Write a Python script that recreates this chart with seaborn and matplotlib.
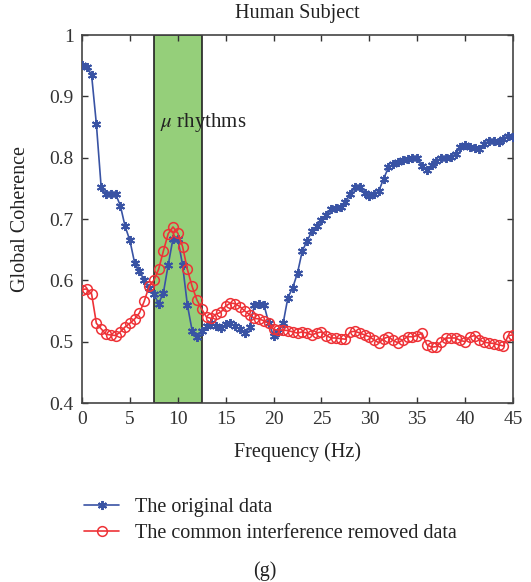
import numpy as np
import pandas as pd
import matplotlib
matplotlib.use("Agg")
import matplotlib.pyplot as plt
import seaborn as sns

freq = np.arange(0, 45.01, 0.5)

original = [
    0.951, 0.948, 0.935, 0.855, 0.752, 0.740, 0.741, 0.741, 0.722, 0.688,
    0.665, 0.628, 0.615, 0.600, 0.588, 0.578, 0.562, 0.580, 0.625, 0.668,
    0.668, 0.625, 0.560, 0.518, 0.508, 0.518, 0.525, 0.530, 0.525, 0.522,
    0.528, 0.531, 0.525, 0.520, 0.514, 0.524, 0.560, 0.562, 0.560, 0.530,
    0.510, 0.515, 0.530, 0.572, 0.588, 0.612, 0.648, 0.664, 0.680, 0.688,
    0.698, 0.706, 0.716, 0.718, 0.720, 0.728, 0.740, 0.752, 0.752, 0.742,
    0.738, 0.740, 0.746, 0.766, 0.784, 0.790, 0.793, 0.796, 0.798, 0.800,
    0.800, 0.786, 0.780, 0.788, 0.795, 0.799, 0.800, 0.801, 0.806, 0.817,
    0.820, 0.818, 0.816, 0.814, 0.823, 0.827, 0.827, 0.826, 0.831, 0.836,
    0.834,
]

removed = [
    0.585, 0.586, 0.578, 0.530, 0.521, 0.512, 0.511, 0.510, 0.516, 0.524,
    0.530, 0.537, 0.547, 0.566, 0.590, 0.600, 0.618, 0.648, 0.676, 0.687,
    0.677, 0.655, 0.618, 0.590, 0.568, 0.553, 0.540, 0.538, 0.545, 0.548,
    0.558, 0.563, 0.562, 0.557, 0.550, 0.544, 0.538, 0.537, 0.534, 0.530,
    0.520, 0.519, 0.519, 0.518, 0.516, 0.514, 0.516, 0.514, 0.511, 0.514,
    0.516, 0.510, 0.506, 0.506, 0.505, 0.504, 0.516, 0.517, 0.514, 0.511,
    0.508, 0.503, 0.498, 0.505, 0.508, 0.502, 0.498, 0.503, 0.508, 0.508,
    0.510, 0.514, 0.495, 0.491, 0.492, 0.500, 0.506, 0.506, 0.506, 0.502,
    0.500, 0.508, 0.510, 0.503, 0.499, 0.498, 0.497, 0.495, 0.493, 0.510,
    0.511,
]

band = [7.5, 12.5]
xticks = [0, 5, 10, 15, 20, 25, 30, 35, 40, 45]
yticks = [0.4, 0.5, 0.6, 0.7, 0.8, 0.9, 1.0]
ytick_labels = ["0.4", "0.5", "0.6", "0.7", "0.8", "0.9", "1"]

sns.set_style("ticks")
plt.rcParams["font.family"] = ["Liberation Serif", "DejaVu Serif"]
plt.rcParams["mathtext.fontset"] = "stix"

fig = plt.figure(figsize=(5.31, 5.82), dpi=100)
ax = fig.add_axes([82 / 531, 1 - 403 / 582, 431 / 531, 368 / 582])

df = pd.DataFrame({"f": freq, "orig": original, "rem": removed})

ax.axvspan(band[0], band[1], facecolor="#95cf7a", edgecolor="#222222", linewidth=1.2, zorder=0)

blue = "#3953a4"
red = "#ee3237"
sns.lineplot(data=df, x="f", y="orig", ax=ax, color=blue, linewidth=1.2,
             marker=(6, 2, 0), markersize=6.5, markeredgewidth=1.4,
             markeredgecolor=blue, label="The original data", zorder=3)
sns.lineplot(data=df, x="f", y="rem", ax=ax, color=red, linewidth=1.2,
             marker="o", markersize=7, markerfacecolor="none",
             markeredgewidth=1.1, markeredgecolor=red,
             label="The common interference removed data", zorder=4)

ax.set_xlim(0, 45)
ax.set_ylim(0.4, 1.0)
ax.set_xticks(xticks)
ax.set_yticks(yticks)
ax.set_yticklabels(ytick_labels)
ax.tick_params(direction="in", top=True, right=True, length=4, width=1,
               labelsize=14, colors="#333333", pad=6)
for s in ax.spines.values():
    s.set_linewidth(1.2)
    s.set_color("#444444")

ax.set_xlabel("Frequency (Hz)", fontsize=14.5, color="#222222", labelpad=10)
ax.set_ylabel("Global Coherence", fontsize=14.5, color="#222222", labelpad=14)
ax.set_title("Human Subject", fontsize=14.5, color="#222222", pad=12)

ax.text(8.1, 0.857, r"$\mu$ rhythms", fontsize=15, color="#222222", va="center", ha="left")

handles, labels = ax.get_legend_handles_labels()
ax.get_legend().remove()
fig.legend(handles, labels, loc="upper left", bbox_to_anchor=(66 / 531, 1 - 480 / 582),
           frameon=False, fontsize=14.5, handlelength=1.75, handletextpad=0.8,
           labelspacing=0.35, numpoints=1, labelcolor="#222222")

fig.text(265 / 531, 1 - 571 / 582, "(g)", ha="center", va="center", fontsize=14.5, color="#222222")

fig.savefig("out.png", dpi=100)
